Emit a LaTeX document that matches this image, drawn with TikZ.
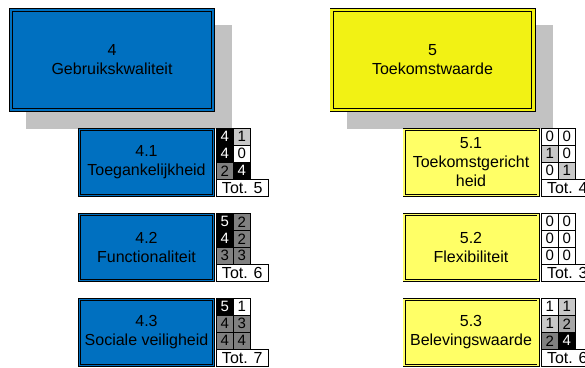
\documentclass[tikz,border=0pt]{standalone}
\usepackage{fontspec}
\setmainfont{Liberation Sans}
\definecolor{boxblue}{RGB}{0,112,192}
\definecolor{bigyellow}{RGB}{242,242,20}
\definecolor{subyellow}{RGB}{255,255,102}
\definecolor{shadowc}{RGB}{194,194,194}
\definecolor{lg}{RGB}{200,200,200}
\definecolor{mg}{RGB}{166,166,166}
\definecolor{dg}{RGB}{128,128,128}
\newcommand\scoregrid[5]{%
  \foreach \c/\r/\f/\t/\v in {#5} {%
    \node[cell,fill=\f,text=\t] (#1-\c\r) at ({#2+17*(\c-1)},{#3+17*(\r-1)}) {\v};
  }
  \node[totbox] (#1-tot) at (#2,{#3+51}) {Tot. #4};
}
\begin{document}
\begin{tikzpicture}[x=1pt,y=-1pt,
  bigbox/.style={draw=black, fill=#1, double=#1, line width=0.9pt, double distance=2.4pt,
    minimum width=201.8pt, minimum height=99.8pt, inner sep=0pt,
    align=center, font=\fontsize{16}{19}\selectfont},
  subbox/.style={draw=black, fill=#1, double=#1, line width=0.7pt, double distance=1.6pt,
    minimum width=134pt, minimum height=66pt, inner sep=0pt,
    align=center, font=\fontsize{16}{19}\selectfont},
  cell/.style={draw=black, line width=0.6pt, minimum size=17pt, inner sep=0pt,
    anchor=north west, font=\fontsize{15}{15}\selectfont},
  totbox/.style={draw=black, fill=white, line width=0.6pt, minimum width=52pt,
    minimum height=17pt, inner sep=0pt, anchor=north west,
    font=\fontsize{16}{16}\selectfont},
]
\useasboundingbox (0,0) rectangle (585,367);
% shadows
\fill[shadowc] (26,25) rectangle (232,129);
\fill[shadowc] (347,25) rectangle (553,129);
% main boxes
\node[bigbox=boxblue] (q4) at (112,60) {4\\Gebruikskwaliteit};
\node[bigbox=bigyellow] (q5) at (432.5,60) {5\\Toekomstwaarde};
% sub boxes
\node[subbox=boxblue] (q41) at (146.5,162.5) {4.1\\Toegankelijkheid};
\node[subbox=boxblue] (q42) at (146.5,247.5) {4.2\\Functionaliteit};
\node[subbox=boxblue] (q43) at (146.5,332.5) {4.3\\Sociale veiligheid};
\node[subbox=subyellow] (q51) at (471,162.5) {5.1\\Toekomstgericht\\heid};
\node[subbox=subyellow] (q52) at (471,247.5) {5.2\\Flexibiliteit};
\node[subbox=subyellow] (q53) at (471,332.5) {5.3\\Belevingswaarde};
% score grids
\scoregrid{g41}{216}{128}{5}{1/1/black/white/4, 2/1/lg/black/1, 1/2/black/white/4, 2/2/white/black/0, 1/3/dg/black/2, 2/3/black/white/4}
\scoregrid{g42}{216}{213}{6}{1/1/black/white/5, 2/1/dg/black/2, 1/2/black/white/4, 2/2/dg/black/2, 1/3/dg/black/3, 2/3/dg/black/3}
\scoregrid{g43}{216}{298}{7}{1/1/black/white/5, 2/1/white/black/1, 1/2/dg/black/4, 2/2/dg/black/3, 1/3/dg/black/4, 2/3/dg/black/4}
\scoregrid{g51}{541}{128}{4}{1/1/white/black/0, 2/1/white/black/0, 1/2/lg/black/1, 2/2/white/black/0, 1/3/white/black/0, 2/3/lg/black/1}
\scoregrid{g52}{541}{213}{3}{1/1/white/black/0, 2/1/white/black/0, 1/2/white/black/0, 2/2/white/black/0, 1/3/white/black/0, 2/3/white/black/0}
\scoregrid{g53}{541}{298}{6}{1/1/white/black/1, 2/1/lg/black/1, 1/2/lg/black/1, 2/2/mg/black/2, 1/3/dg/black/2, 2/3/black/white/4}
\end{tikzpicture}
\end{document}
